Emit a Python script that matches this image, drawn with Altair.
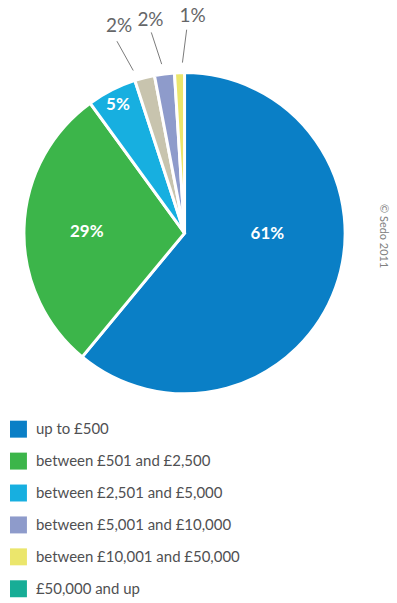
import altair as alt
import pandas as pd

# ---- data ----
categories = ["up to £500", "between £501 and £2,500", "between £2,501 and £5,000",
              "other", "between £5,001 and £10,000", "between £10,001 and £50,000"]
shares = [61, 29, 5, 2, 2, 1]
labels = ["61%", "29%", "5%", "2%", "2%", "1%"]
legend_categories = ["up to £500", "between £501 and £2,500", "between £2,501 and £5,000",
                     "between £5,001 and £10,000", "between £10,001 and £50,000", "£50,000 and up"]

# ---- styles ----
color_domain = categories + ["£50,000 and up"]
color_range = ["#0a7fc6", "#3cb54a", "#17afe0", "#c8c4ae", "#8e9bcb", "#ebe66c", "#17ad96"]

W, H = 370, 466
CX, CY = W / 2, H / 2
R = 161

df = pd.DataFrame({"idx": list(range(len(categories))), "cat": categories,
                   "value": shares, "label": labels})

base = alt.Chart(df).transform_window(
    cum="sum(value)", sort=[{"field": "idx"}], frame=[None, 0]
).transform_joinaggregate(total="sum(value)").transform_calculate(
    mid="(datum.cum - datum.value/2) / datum.total * 2 * PI"
)

arcs = base.mark_arc(outerRadius=R, stroke="white", strokeWidth=3).encode(
    theta=alt.Theta("value:Q", stack=True),
    order=alt.Order("idx:Q"),
    color=alt.Color(
        "cat:N",
        scale=alt.Scale(domain=color_domain, range=color_range),
        legend=alt.Legend(
            values=legend_categories, orient="none", legendX=10, legendY=421,
            title=None, symbolType="square", symbolSize=289, symbolStrokeWidth=0,
            symbolOpacity=1, labelFont="Lato", labelFontSize=15, labelColor="#4f5052",
            labelLimit=400, rowPadding=15, labelOffset=9, padding=0,
        ),
    ),
)

# label layout (angle nudges in degrees, radii in px)
lab = base.transform_calculate(
    la="datum.mid + [-19.1, -1.2, -0.4, -3.1, -1.9, 3.9][datum.idx] * PI / 180",
    lr="[83, 98, 145, 218, 216, 218][datum.idx]",
)

inner_text = lab.transform_filter("datum.idx <= 2").mark_text(
    font="Lato", fontWeight="bold", fontSize=17, color="white", baseline="middle", align="center"
).encode(
    theta=alt.Theta("la:Q", scale=None, stack=False),
    radius=alt.Radius("lr:Q", scale=None),
    text="label:N",
)

outer_text = lab.transform_filter("datum.idx >= 3").mark_text(
    font="Lato", fontSize=19, color="#656668", baseline="middle", align="center"
).encode(
    theta=alt.Theta("la:Q", scale=None, stack=False),
    radius=alt.Radius("lr:Q", scale=None),
    text="label:N",
)

leaders = base.transform_filter("datum.idx >= 3").transform_calculate(
    ai="datum.mid + [0,0,0,-3.1,-0.5,1.1][datum.idx] * PI / 180",
    ao="datum.mid + [0,0,0,-5.0,-2.2,2.4][datum.idx] * PI / 180",
).transform_calculate(
    x1=f"{CX} + 171 * sin(datum.ai)",
    y1=f"{CY} - 171 * cos(datum.ai)",
    x2=f"{CX} + 204 * sin(datum.ao)",
    y2=f"{CY} - 204 * cos(datum.ao)",
).mark_rule(color="#7a7a7a", strokeWidth=1).encode(
    x=alt.X("x1:Q", scale=None, axis=None),
    y=alt.Y("y1:Q", scale=None, axis=None),
    x2="x2:Q",
    y2="y2:Q",
)

credit = alt.Chart(pd.DataFrame({"t": ["© Sedo 2011"]})).mark_text(
    font="Lato", fontSize=11, color="#808080", angle=90, baseline="middle", align="center"
).encode(x=alt.value(384), y=alt.value(236), text="t:N")

chart = alt.layer(arcs, leaders, inner_text, outer_text, credit).properties(
    width=W, height=H, padding={"left": 0, "top": 0, "right": 8, "bottom": 0},
    background="white"
).configure_view(stroke=None)

chart.save("out.html", embed_options={"renderer": "svg", "actions": False})
